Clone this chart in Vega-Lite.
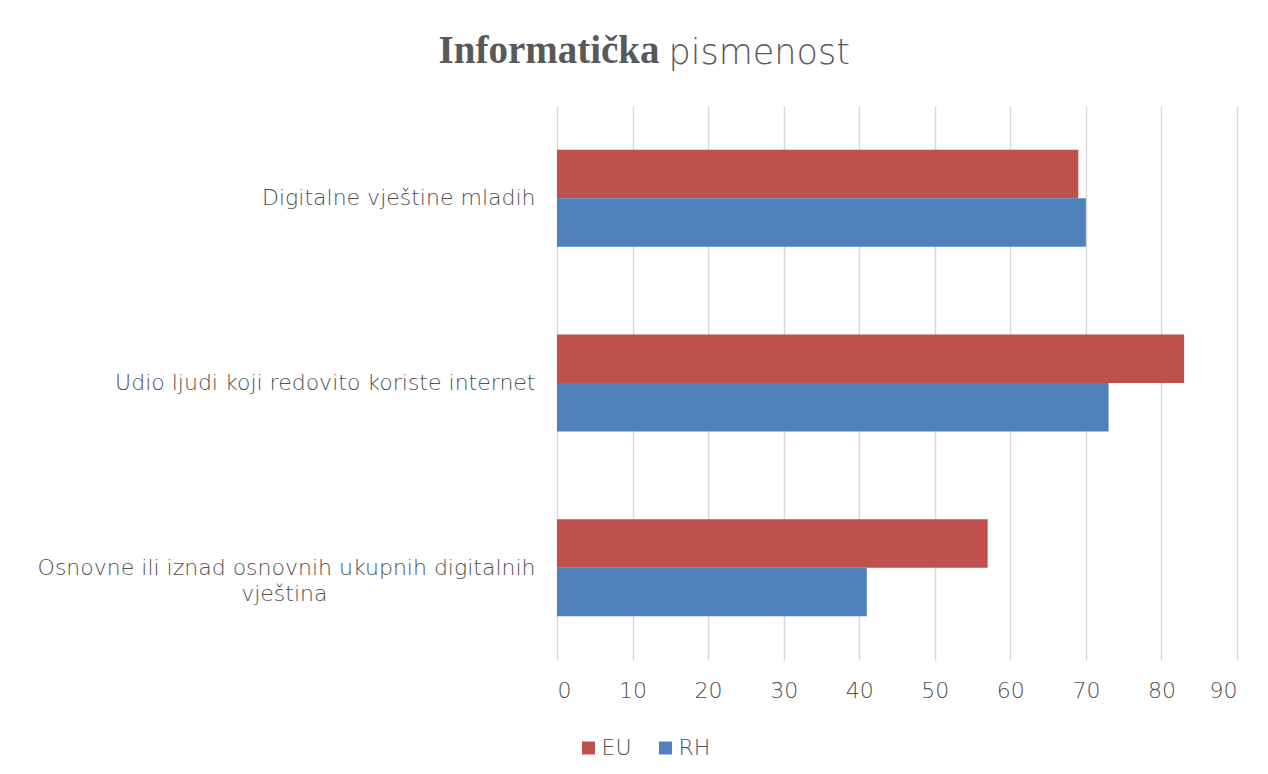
{
  "$schema": "https://vega.github.io/schema/vega-lite/v6.json",
  "background": "white",
  "padding": {"left": 37, "top": 32, "right": 20, "bottom": 5},
  "title": {
    "text": "Informatička",
    "font": "Liberation Serif",
    "fontWeight": "bold",
    "fontSize": 39,
    "color": "#595959",
    "anchor": "middle",
    "dx": -88,
    "dy": 35,
    "offset": 0
  },
  "vconcat": [
    {
      "width": 680,
      "height": 554,
      "title": {
        "text": "pismenost",
        "font": "DejaVu Sans",
        "fontWeight": 200,
        "fontSize": 35,
        "color": "#595959",
        "anchor": "start",
        "frame": "group",
        "dx": 111.5,
        "dy": -35,
        "offset": 0
      },
      "data": {
        "values": [
          {"kategorija": "Digitalne vještine mladih", "serija": "EU", "vrijednost": 69},
          {"kategorija": "Digitalne vještine mladih", "serija": "RH", "vrijednost": 70},
          {"kategorija": "Udio ljudi koji redovito koriste internet", "serija": "EU", "vrijednost": 83},
          {"kategorija": "Udio ljudi koji redovito koriste internet", "serija": "RH", "vrijednost": 73},
          {"kategorija": "Osnovne ili iznad osnovnih ukupnih digitalnih vještina", "serija": "EU", "vrijednost": 57},
          {"kategorija": "Osnovne ili iznad osnovnih ukupnih digitalnih vještina", "serija": "RH", "vrijednost": 41}
        ]
      },
      "mark": {"type": "bar"},
      "encoding": {
        "y": {
          "field": "kategorija",
          "type": "nominal",
          "sort": ["Digitalne vještine mladih", "Udio ljudi koji redovito koriste internet", "Osnovne ili iznad osnovnih ukupnih digitalnih vještina"],
          "scale": {"paddingInner": 0.475, "paddingOuter": 0.2375},
          "axis": {
            "title": null,
            "ticks": false,
            "domain": false,
            "labelPadding": 22,
            "labelFont": "DejaVu Sans",
            "labelFontWeight": 200,
            "labelFontSize": 22,
            "labelColor": "#505050",
            "labelLimit": 700,
            "labelLineHeight": 26,
            "labelExpr": "datum.label == 'Osnovne ili iznad osnovnih ukupnih digitalnih vještina' ? ['Osnovne ili iznad osnovnih ukupnih digitalnih', 'vještina\u2800\u2800\u2800\u2800\u2800\u2800\u2800\u2800\u2800\u2800\u2800\u2800\u2800'] : datum.label"
          }
        },
        "yOffset": {
          "field": "serija",
          "type": "nominal",
          "sort": ["EU", "RH"],
          "scale": {"paddingInner": 0, "paddingOuter": 0}
        },
        "x": {
          "field": "vrijednost",
          "type": "quantitative",
          "scale": {"domain": [0, 90], "nice": false},
          "axis": {
            "title": null,
            "values": [0, 10, 20, 30, 40, 50, 60, 70, 80, 90],
            "ticks": false,
            "domain": false,
            "grid": true,
            "gridColor": "#d9d9d9",
            "gridWidth": 1.5,
            "labelPadding": 20,
            "labelFont": "DejaVu Sans",
            "labelFontWeight": 200,
            "labelFontSize": 22,
            "labelColor": "#505050"
          }
        },
        "color": {
          "field": "serija",
          "type": "nominal",
          "sort": ["EU", "RH"],
          "scale": {"domain": ["EU", "RH"], "range": ["#C0504D", "#4F81BD"]},
          "legend": {
            "title": null,
            "orient": "none",
            "direction": "horizontal",
            "legendX": 20.5,
            "legendY": 631,
            "symbolType": "square",
            "symbolSize": 169,
            "symbolStrokeWidth": 0,
            "symbolOpacity": 1,
            "labelFont": "DejaVu Sans",
            "labelFontWeight": 200,
            "labelFontSize": 22,
            "labelColor": "#505050",
            "labelOffset": 2,
            "columnPadding": 22
          }
        }
      }
    }
  ],
  "config": {"view": {"stroke": null}}
}
